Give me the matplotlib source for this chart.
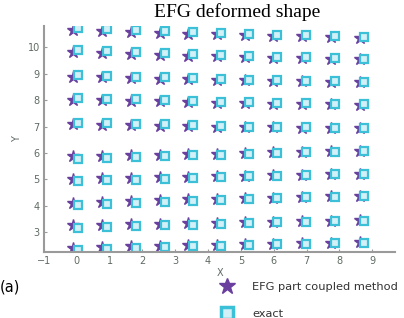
import numpy as np
import matplotlib.pyplot as plt
from matplotlib.lines import Line2D

# EFG part coupled method (stars): column x positions and row-by-row y values
efg_x = [-0.12, 0.77, 1.66, 2.54, 3.40, 4.27, 5.13, 5.98, 6.87, 7.76, 8.63]
efg_y = [
    [10.67, 10.62, 10.57, 10.54, 10.52, 10.49, 10.46, 10.44, 10.42, 10.40, 10.37],
    [9.81, 9.78, 9.74, 9.71, 9.68, 9.66, 9.63, 9.61, 9.59, 9.57, 9.55],
    [8.88, 8.86, 8.83, 8.81, 8.79, 8.77, 8.75, 8.73, 8.72, 8.70, 8.69],
    [8.01, 7.99, 7.97, 7.95, 7.93, 7.91, 7.89, 7.87, 7.86, 7.84, 7.83],
    [7.08, 7.07, 7.05, 7.04, 7.02, 7.00, 6.98, 6.97, 6.96, 6.94, 6.93],
    [5.88, 5.90, 5.92, 5.94, 5.96, 5.98, 6.00, 6.02, 6.04, 6.06, 6.07],
    [5.02, 5.04, 5.06, 5.08, 5.10, 5.12, 5.14, 5.16, 5.18, 5.20, 5.21],
    [4.12, 4.15, 4.18, 4.21, 4.24, 4.27, 4.29, 4.31, 4.34, 4.36, 4.38],
    [3.26, 3.28, 3.30, 3.32, 3.34, 3.36, 3.38, 3.40, 3.42, 3.44, 3.45],
    [2.40, 2.43, 2.46, 2.49, 2.51, 2.53, 2.55, 2.57, 2.59, 2.61, 2.62],
]

# exact solution (squares)
exact_x = [0.03, 0.92, 1.81, 2.68, 3.54, 4.40, 5.26, 6.11, 6.99, 7.88, 8.75]
exact_y = [
    [10.75, 10.70, 10.65, 10.61, 10.58, 10.55, 10.51, 10.48, 10.46, 10.43, 10.40],
    [9.89, 9.86, 9.81, 9.77, 9.74, 9.71, 9.67, 9.65, 9.62, 9.60, 9.57],
    [8.96, 8.93, 8.89, 8.86, 8.83, 8.81, 8.78, 8.76, 8.74, 8.72, 8.70],
    [8.08, 8.06, 8.03, 8.00, 7.97, 7.94, 7.92, 7.89, 7.88, 7.85, 7.84],
    [7.14, 7.12, 7.10, 7.08, 7.05, 7.03, 7.00, 6.98, 6.97, 6.95, 6.93],
    [5.79, 5.82, 5.85, 5.88, 5.91, 5.94, 5.97, 6.00, 6.03, 6.05, 6.07],
    [4.93, 4.96, 4.99, 5.02, 5.05, 5.08, 5.11, 5.14, 5.17, 5.19, 5.21],
    [4.03, 4.07, 4.11, 4.15, 4.19, 4.23, 4.26, 4.29, 4.32, 4.35, 4.37],
    [3.17, 3.20, 3.23, 3.26, 3.29, 3.32, 3.35, 3.38, 3.40, 3.43, 3.44],
    [2.31, 2.35, 2.39, 2.43, 2.46, 2.49, 2.52, 2.55, 2.57, 2.60, 2.61],
]

x_ticks = [-1, 0, 1, 2, 3, 4, 5, 6, 7, 8, 9]
y_ticks = [3, 4, 5, 6, 7, 8, 9, 10]

star_color = '#6a3f9e'
sq_edge = '#3cc0d8'
sq_face = '#d2f0f7'
tick_color = '#5f6a62'

fig = plt.figure(figsize=(4.04, 3.18), dpi=100)
ax = fig.add_axes([0.109, 0.2075, 0.869, 0.71])

ex, ey = np.meshgrid(efg_x, np.arange(len(efg_y)))
ax.plot(np.array(ex).ravel(), np.array(efg_y).ravel(), ls='none', marker='*',
        ms=9, color=star_color, mec=star_color)
sx, _ = np.meshgrid(exact_x, np.arange(len(exact_y)))
ax.plot(np.array(sx).ravel(), np.array(exact_y).ravel(), ls='none', marker='s',
        ms=5.5, mfc=sq_face, mec=sq_edge, mew=1.6)

ax.set_xlim(-1, 9.7)
ax.set_ylim(2.25, 10.8)
ax.set_xticks(x_ticks)
ax.set_yticks(y_ticks)
for s in ['top', 'right']:
    ax.spines[s].set_visible(False)
for s in ['left', 'bottom']:
    ax.spines[s].set_color('#9a9a9a')
    ax.spines[s].set_linewidth(1.5)
ax.tick_params(direction='in', length=2, width=0.8, colors='#9a9a9a',
               labelcolor=tick_color, labelsize=7, pad=3)
ax.set_xlabel('X', fontsize=7, color=tick_color, labelpad=1)
ax.set_ylabel('Y', fontsize=7, color=tick_color, labelpad=4)

fig.text(237 / 404, 1 - 12 / 318, 'EFG deformed shape', ha='center', va='center',
         family='Liberation Serif', fontsize=14)
fig.text(0.0, 1 - 287 / 318, '(a)', ha='left', va='center', fontsize=10.5)

handles = [
    Line2D([], [], ls='none', marker='*', ms=12, color=star_color),
    Line2D([], [], ls='none', marker='s', ms=8, mfc=sq_face, mec=sq_edge, mew=2.5),
]
fig.legend(handles, ['EFG part coupled method', 'exact'], loc='upper left',
           bbox_to_anchor=(210 / 404, 1 - 276 / 318), frameon=False,
           fontsize=8.2, labelspacing=1.55, handletextpad=1.2, borderpad=0,
           labelcolor='#333333')

fig.savefig('out.png', dpi=100)
